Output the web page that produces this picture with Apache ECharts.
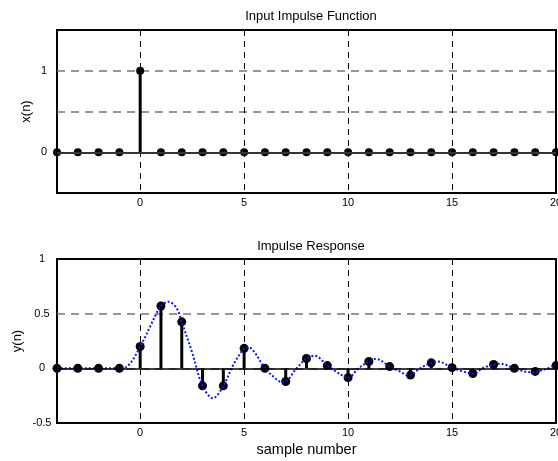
<!DOCTYPE html>
<html>
<head>
<meta charset="utf-8">
<script src="https://cdn.jsdelivr.net/npm/echarts@6/dist/echarts.min.js"></script>
<style>
html,body{margin:0;padding:0;background:#fff;}
#c{width:558px;height:461px;}
</style>
</head>
<body>
<div id="c"></div>
<script>
// sample indices
var sampleN = [-4,-3,-2,-1,0,1,2,3,4,5,6,7,8,9,10,11,12,13,14,15,16,17,18,19,20];
// input impulse x(n)
var inputX = [0,0,0,0,1,0,0,0,0,0,0,0,0,0,0,0,0,0,0,0,0,0,0,0,0];
// impulse response y(n)
var responseY = [0,0,0,0,0.2,0.57,0.425,-0.16,-0.16,0.183,0,-0.12,0.09,0.025,-0.085,0.063,0.016,-0.062,0.05,0.006,-0.047,0.035,0,-0.028,0.025];
// continuous (dotted) curve
var curveN = [-4,-1,-0.75,-0.5,-0.25,0,0.25,0.5,0.75,1,1.35,1.75,2,2.5,3,3.5,4,4.5,5,5.2,5.5,6,6.5,6.8,7,7.5,8,8.4,9,9.5,10,10.5,11,11.3,11.5,12,12.5,12.9,13.5,14,14.3,15,15.5,16,16.5,17,17.3,18,18.5,18.9,19.5,20];
var curveY = [0,0,0.005,0.04,0.11,0.2,0.29,0.39,0.49,0.57,0.61,0.55,0.425,0.145,-0.16,-0.273,-0.16,0.04,0.183,0.195,0.147,0,-0.09,-0.125,-0.12,-0.005,0.09,0.115,0.025,-0.04,-0.085,0,0.063,0.085,0.08,0.016,-0.03,-0.065,0.005,0.05,0.063,0.006,-0.028,-0.047,0.003,0.035,0.043,0,-0.03,-0.035,-0.007,0.025];
// tick labels
var xTickLabels = [0,5,10,15,20];
var topYLabels = [0,1];
var bottomYLabels = [-0.5,0,0.5,1];

function pairs(a,b){ return a.map(function(v,i){ return [v,b[i]]; }); }

var FONT = 'Liberation Sans, Arial, sans-serif';
var chart = echarts.init(document.getElementById('c'), null, {renderer:'canvas'});

function xAxisCfg(gi, name){
  return {
    type:'value', gridIndex:gi, min:-4, max:20, splitNumber:5,
    axisLine:{show:false}, axisTick:{show:false},
    axisLabel:{
      color:'#000', fontSize:11, fontFamily:FONT, margin:4,
      showMinLabel:true, showMaxLabel:true, hideOverlap:false,
      formatter:function(v){ return xTickLabels.indexOf(v) >= 0 ? String(v) : ''; }
    },
    splitLine:{show:true, showMinLine:false, showMaxLine:false,
      lineStyle:{color:'#000', width:1, type:[6,5]}},
    name:name, nameLocation:'middle', nameGap:19, nameMoveOverlap:false,
    nameTextStyle:{color:'#000', fontSize:14.5, fontFamily:FONT}
  };
}
function yAxisCfg(gi, min, max, labels, name, nameGap, margin){
  return {
    type:'value', gridIndex:gi, min:min, max:max, interval:0.5,
    axisLine:{show:false}, axisTick:{show:false},
    axisLabel:{
      color:'#000', fontSize:11, fontFamily:FONT, margin:margin, align:'center',
      formatter:function(v){ return labels.indexOf(v) >= 0 ? String(v) : ''; }
    },
    splitLine:{show:true, showMinLine:false, showMaxLine:false,
      lineStyle:{color:'#777', width:1.5, type:[8,6]}},
    name:name, nameLocation:'middle', nameGap:nameGap, nameMoveOverlap:false,
    nameTextStyle:{color:'#000', fontSize:13, fontFamily:FONT}
  };
}

var option = {
  animation:false,
  backgroundColor:'#fff',
  textStyle:{fontFamily:FONT},
  title:[
    {text:'Input Impulse Function', left:306, top:5, textAlign:'center',
     textStyle:{fontSize:13, fontWeight:'normal', color:'#000', fontFamily:FONT}},
    {text:'Impulse Response', left:306, top:235, textAlign:'center',
     textStyle:{fontSize:13, fontWeight:'normal', color:'#000', fontFamily:FONT}}
  ],
  grid:[
    {left:57, top:30, right:2, height:163, containLabel:false, outerBoundsMode:'none',
     show:true, borderColor:'#000', borderWidth:2, backgroundColor:'transparent'},
    {left:57, top:259, right:2, height:164, containLabel:false, outerBoundsMode:'none',
     show:true, borderColor:'#000', borderWidth:2, backgroundColor:'transparent'}
  ],
  xAxis:[ xAxisCfg(0, ''), xAxisCfg(1, 'sample number') ],
  yAxis:[
    yAxisCfg(0, -0.5, 1.5, topYLabels, 'x(n)', 24, 13),
    yAxisCfg(1, -0.5, 1, bottomYLabels, 'y(n)', 33, 15)
  ],
  series:[
    {type:'bar', xAxisIndex:0, yAxisIndex:0, data:pairs(sampleN,inputX), barWidth:3,
     itemStyle:{color:'#000', opacity:1}, z:2, silent:true,
     markLine:{silent:true, symbol:'none', label:{show:false}, animation:false,
       lineStyle:{color:'#333', width:2, type:'solid', opacity:1}, data:[{yAxis:0}]}},
    {type:'scatter', xAxisIndex:0, yAxisIndex:0, data:pairs(sampleN,inputX), symbol:'circle', symbolSize:8,
     itemStyle:{color:'#000', opacity:1}, z:3, silent:true},
    {type:'bar', xAxisIndex:1, yAxisIndex:1, data:pairs(sampleN,responseY), barWidth:3,
     itemStyle:{color:'#000', opacity:1}, z:2, silent:true,
     markLine:{silent:true, symbol:'none', label:{show:false}, animation:false,
       lineStyle:{color:'#000', width:1.5, type:'solid', opacity:1}, data:[{yAxis:0}]}},
    {type:'scatter', xAxisIndex:1, yAxisIndex:1, data:pairs(sampleN,responseY), symbol:'circle', symbolSize:9,
     itemStyle:{color:'#000', opacity:1}, z:3, silent:true},
    {type:'line', xAxisIndex:1, yAxisIndex:1, data:pairs(curveN,curveY), smooth:0.35, showSymbol:false,
     lineStyle:{color:'#1010ff', width:2, type:[2,2]}, z:4, silent:true}
  ]
};
chart.setOption(option);
</script>
</body>
</html>
